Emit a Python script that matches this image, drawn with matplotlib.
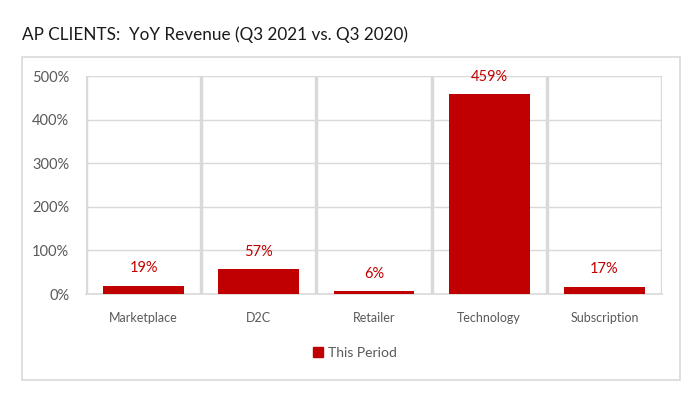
import matplotlib.pyplot as plt
from matplotlib.patches import Rectangle, Patch

categories = ["Marketplace", "D2C", "Retailer", "Technology", "Subscription"]
values = [19, 57, 6, 459, 17]
yticks = [0, 100, 200, 300, 400, 500]
series_name = "This Period"
title = "AP CLIENTS:  YoY Revenue (Q3 2021 vs. Q3 2020)"

red = "#C00000"
grid = "#D9D9D9"
txt = "#595959"

plt.rcParams["font.family"] = ["Lato", "DejaVu Sans"]

fig = plt.figure(figsize=(6.87, 3.97), dpi=100)
# outer frame around the chart area
fig.patches.append(
    Rectangle((22 / 687, 1 - 380 / 397), 658 / 687, 323 / 397,
              transform=fig.transFigure, fill=False, edgecolor=grid, lw=1.2)
)
fig.text(22 / 687, 1 - 35 / 397, title, fontsize=12.3, color="#1a1a1a", va="center")

ax = fig.add_axes([86 / 687, 1 - 294 / 397, 576 / 687, 218 / 397])
x = list(range(len(categories)))
ax.bar(x, values, width=0.7, color=red, zorder=3)

for xi, v in zip(x, values):
    ax.annotate(f"{v}%", (xi, v), xytext=(0, 12.5), textcoords="offset points",
                ha="center", va="center", color=red, fontsize=10.5)

ax.set_xlim(-0.5, len(categories) - 0.5)
ax.set_ylim(0, 500)
ax.set_yticks(yticks)
ax.set_yticklabels([f"{t}%" for t in yticks], color=txt, fontsize=10.5)
ax.set_xticks(x)
ax.set_xticklabels(categories, color=txt, fontsize=9)
ax.tick_params(axis="both", length=0)
ax.tick_params(axis="y", pad=12)
ax.tick_params(axis="x", pad=13)

for t in yticks[1:]:
    ax.axhline(t, color=grid, lw=1, zorder=1)
for xs in range(len(categories) + 1):
    ax.axvline(xs - 0.5, color=grid, lw=2.5, zorder=2)

for s in ["top", "left", "right"]:
    ax.spines[s].set_visible(False)
ax.spines["bottom"].set_color(grid)
ax.spines["bottom"].set_linewidth(1.2)

fig.legend(handles=[Patch(color=red, label=series_name)], loc="center",
           bbox_to_anchor=(355 / 687, 1 - 353 / 397), frameon=False,
           fontsize=10, handlelength=0.7, handleheight=0.7, handletextpad=0.4,
           labelcolor=txt)

fig.savefig("out.png", dpi=100)
